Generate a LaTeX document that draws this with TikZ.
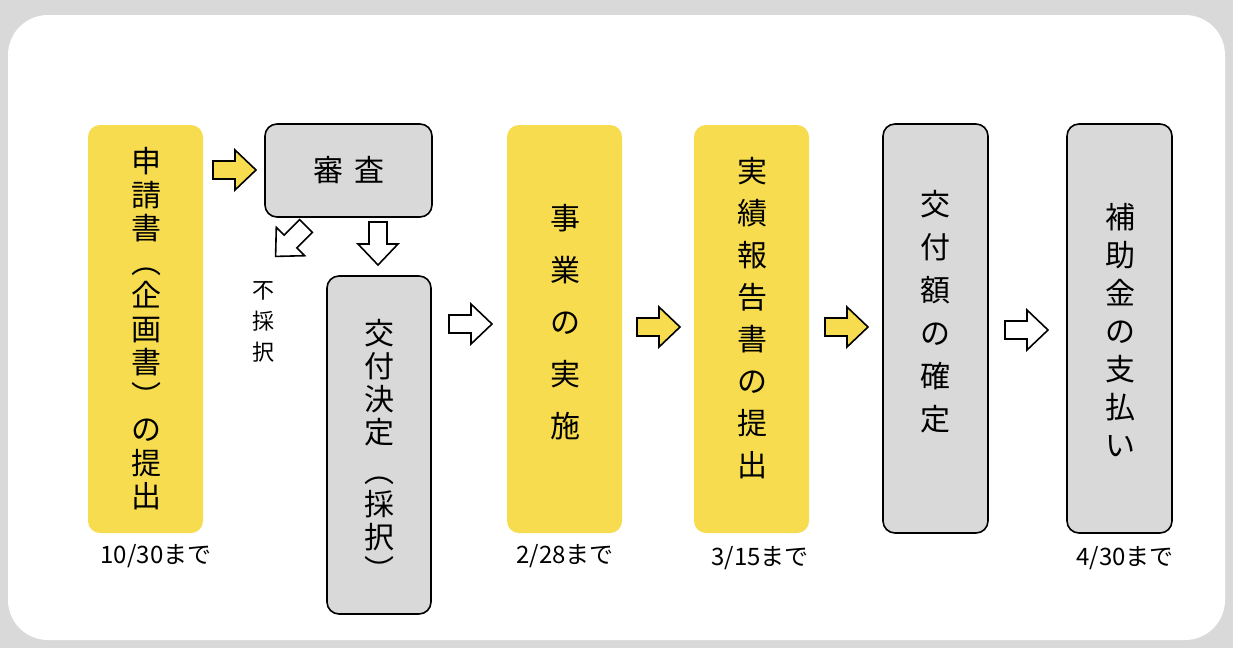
\documentclass[tikz,border=0pt]{standalone}
\usepackage{fontspec}
\setmainfont{Noto Sans CJK JP}
\definecolor{ylw}{HTML}{F6DC4E}
\definecolor{gry}{HTML}{D9D9D9}
\begin{document}
\begin{tikzpicture}[x=1pt,y=-1pt,
  ybox/.style={fill=ylw,rounded corners=12pt},
  gbox/.style={fill=gry,draw=black,line width=1.6pt,rounded corners=12pt},
  vt/.style={align=center,inner sep=0pt},
  date/.style={font=\fontsize{24}{26}\selectfont,inner sep=0pt},
  barrow/.pic={\draw[line width=1.6pt,line join=miter,fill=#1] (0,-9) -- (22,-9) -- (22,-20) -- (43,0) -- (22,20) -- (22,9) -- (0,9) -- cycle;}]
\useasboundingbox (0,0) rectangle (1233,648);
\fill[gry] (0,0) rectangle (1233,648);
\fill[white,rounded corners=40pt] (8,15) rectangle (1225,640);
% boxes
\fill[ybox] (88,125) rectangle (203,533);
\draw[gbox] (265,124) rectangle (432,217);
\draw[gbox] (327,276) rectangle (431,614);
\fill[ybox] (507,125) rectangle (622,533);
\fill[ybox] (694,125) rectangle (809,533);
\draw[gbox] (883,124) rectangle (988,533);
\draw[gbox] (1067,124) rectangle (1172,533);
% texts
\node[vt,font=\fontsize{30}{33.5}\selectfont] (a) at (146,329) {申\\請\\書\\︵\\企\\画\\書\\︶\\の\\提\\出};
\node[font=\fontsize{30}{33}\selectfont,inner sep=0pt] (b) at (349,170) {審\hspace{0.4em}査};
\node[vt,font=\fontsize{30}{33}\selectfont] (c) at (379,450) {交\\付\\決\\定\\[6pt]︵\\採\\択\\︶};
\node[vt,font=\fontsize{30}{52}\selectfont] (d) at (565,322) {事\\業\\の\\実\\施};
\node[vt,font=\fontsize{30}{42}\selectfont] (e) at (752,318) {実\\績\\報\\告\\書\\の\\提\\出};
\node[vt,font=\fontsize{30}{43}\selectfont] (f) at (935,312) {交\\付\\額\\の\\確\\定};
\node[vt,font=\fontsize{30}{38}\selectfont] (g) at (1120,330) {補\\助\\金\\の\\支\\払\\い};
\node[vt,font=\fontsize{22}{31}\selectfont] (h) at (263,322) {不\\採\\択};
% dates
\node[date] (d1) at (156,556) {10/30まで};
\node[date] (d2) at (565,556) {2/28まで};
\node[date] (d3) at (760,558) {3/15まで};
\node[date] (d4) at (1125,558) {4/30まで};
% arrows
\pic at (213,170) {barrow=ylw};
\pic[rotate=-90] at (378,222) {barrow=white};
\pic[rotate=-135] at (306,226) {barrow=white};
\pic at (449,324) {barrow=white};
\pic at (637,327) {barrow=ylw};
\pic at (825,327) {barrow=ylw};
\pic at (1005,330) {barrow=white};
\end{tikzpicture}
\end{document}
